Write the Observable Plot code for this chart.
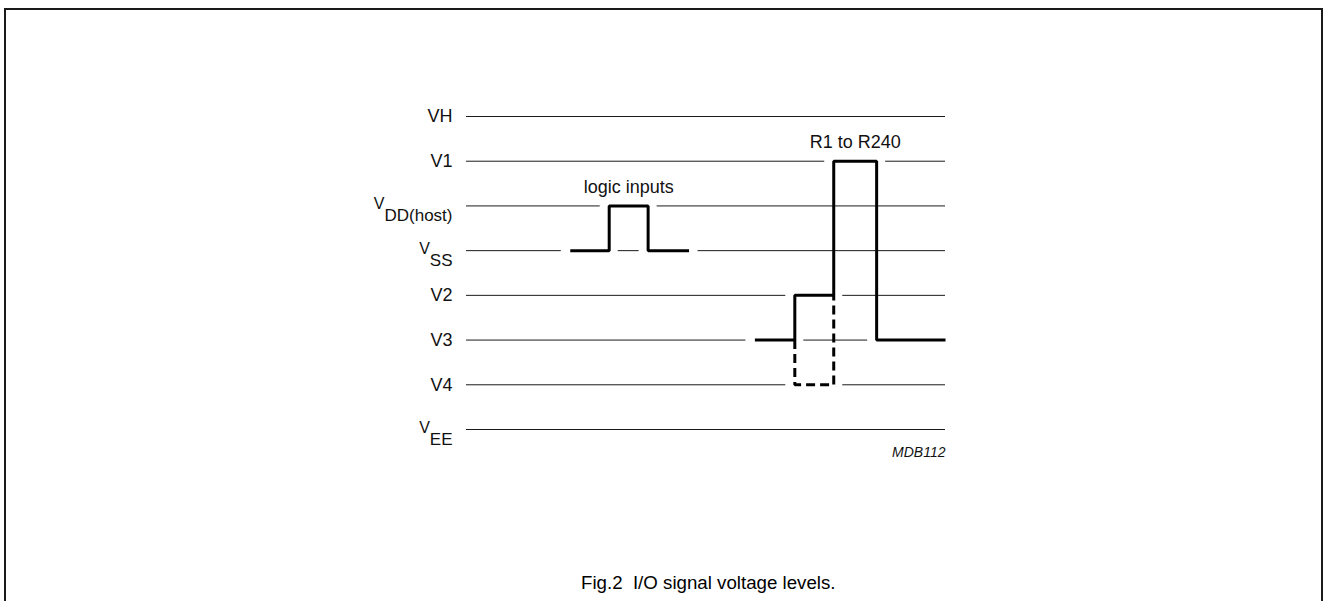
<!DOCTYPE html>
<html><head><meta charset="utf-8">
<script src="https://cdn.jsdelivr.net/npm/d3@7"></script>
<script src="https://cdn.jsdelivr.net/npm/@observablehq/plot@0.6"></script>
<style>
html,body{margin:0;padding:0;background:#fff;}
body{width:1326px;height:601px;position:relative;overflow:hidden;font-family:"Liberation Sans",Arial,sans-serif;}
#frame{position:absolute;left:4px;top:8px;width:1319px;height:640px;border:2px solid #1a1a1a;border-bottom:none;box-sizing:border-box;}
#chart{position:absolute;left:0;top:0;}
#caption{position:absolute;left:581px;top:574px;font-size:18.7px;line-height:18.7px;white-space:pre;color:#000;}
</style></head><body>
<div id="frame"></div>
<div id="chart"></div>
<div id="caption">Fig.2  I/O signal voltage levels.</div>
<script>
// Voltage levels, top to bottom ("_" marks a subscript)
const levelNames = ["VH", "V1", "V_DD(host)", "V_SS", "V2", "V3", "V4", "V_EE"];
// time axis span of the level lines (arbitrary units)
const timeSpan = [0, 120];
// logic inputs waveform (step-after)
const logicTime = [26, 35.75, 45.5, 55.75];
const logicLevel = ["V_SS", "V_DD(host)", "V_SS", "V_SS"];
// row outputs R1 to R240 (step-after)
const rowTime = [72.25, 82.25, 92, 102.75, 120];
const rowLevel = ["V3", "V2", "V1", "V3", "V3"];
// alternative (dashed) path of the row output
const altTime = [82.25, 82.25, 92, 92];
const altLevel = ["V3", "V4", "V4", "V2"];
const annotationText = ["logic inputs", "R1 to R240"];
const figureCode = "MDB112";

const pos = name => levelNames.length - 1 - levelNames.indexOf(name);
const levels = levelNames.map(name => ({name, v: pos(name)}));
const toPts = (T, L) => T.map((t, i) => ({t, v: pos(L[i])}));
const logic = toPts(logicTime, logicLevel);
const row = toPts(rowTime, rowLevel);
const alt = toPts(altTime, altLevel);

// horizontal segments (for the white gaps cut into the level lines)
const stepSegs = pts => d3.pairs(pts).map(([a, b]) => ({t1: a.t, t2: b.t, v: a.v})).filter(d => d.t1 !== d.t2);
const linSegs = pts => d3.pairs(pts).filter(([a, b]) => a.v === b.v && a.t !== b.t).map(([a, b]) => ({t1: a.t, t2: b.t, v: a.v}));
const logicSegs = stepSegs(logic), rowSegs = stepSegs(row);
const segs = [...logicSegs, ...rowSegs, ...linSegs(alt)];

const highOf = s => s.reduce((m, d) => d.v > m.v ? d : m);
const annotations = [highOf(logicSegs), highOf(rowSegs)].map((d, i) => ({t: (d.t1 + d.t2) / 2, v: d.v, text: annotationText[i]}));

const tickFormat = v => levelNames[levelNames.length - 1 - v];
const hasAxisMark = typeof Plot.axisY === "function";
const yAxisMarks = hasAxisMark
  ? [Plot.axisY(levels.map(d => d.v), {tickFormat, tickSize: 0, tickPadding: 14, fontSize: 18, fill: "#111", label: null})]
  : [];

const plot = Plot.plot({
  width: 1326, height: 480,
  marginLeft: 466, marginRight: 381, marginTop: 116, marginBottom: 51,
  style: {background: "transparent", fontSize: "18px", fontFamily: "Liberation Sans, Arial, sans-serif", color: "#111"},
  x: {domain: timeSpan, axis: null},
  y: hasAxisMark
    ? {domain: [0, levelNames.length - 1], axis: null}
    : {domain: [0, levelNames.length - 1], ticks: levels.map(d => d.v), tickFormat, tickSize: 0, tickPadding: 14, label: null},
  marks: [
    ...yAxisMarks,
    Plot.ruleY(levels, {y: "v", x1: timeSpan[0], x2: timeSpan[1], stroke: "#1a1a1a", strokeWidth: 1}),
    Plot.rect(segs, {x1: "t1", x2: "t2", y1: "v", y2: "v", fill: "white", insetLeft: -9, insetRight: -9, insetTop: -3, insetBottom: -3}),
    Plot.line(alt, {x: "t", y: "v", stroke: "black", strokeWidth: 3, strokeDasharray: "9,5", strokeLinejoin: "miter", strokeLinecap: "butt"}),
    Plot.line(logic, {x: "t", y: "v", curve: "step-after", stroke: "black", strokeWidth: 3, strokeLinejoin: "miter", strokeLinecap: "butt"}),
    Plot.line(row, {x: "t", y: "v", curve: "step-after", stroke: "black", strokeWidth: 3, strokeLinejoin: "miter", strokeLinecap: "butt"}),
    Plot.text(annotations, {x: "t", y: "v", text: "text", dy: -19, fontSize: 18, fill: "#111"}),
    Plot.text([figureCode], {x: timeSpan[1], y: 0, text: d => d, dy: 23, textAnchor: "end", fontSize: 14, fontStyle: "italic", fill: "#111"})
  ]
});
document.getElementById("chart").appendChild(plot);

// render subscripts of level names
d3.select(plot).selectAll("text").each(function () {
  const s = this.textContent;
  if (!s.includes("_")) return;
  const [base, sub] = s.split("_");
  this.textContent = "";
  this.removeAttribute("dy");
  this.setAttribute("y", 0);
  const el = d3.select(this);
  el.append("tspan").attr("font-size", 16).attr("dy", "3.5").text(base);
  el.append("tspan").attr("font-size", 17).attr("dy", "11.5").text(sub);
});
</script>
</body></html>
